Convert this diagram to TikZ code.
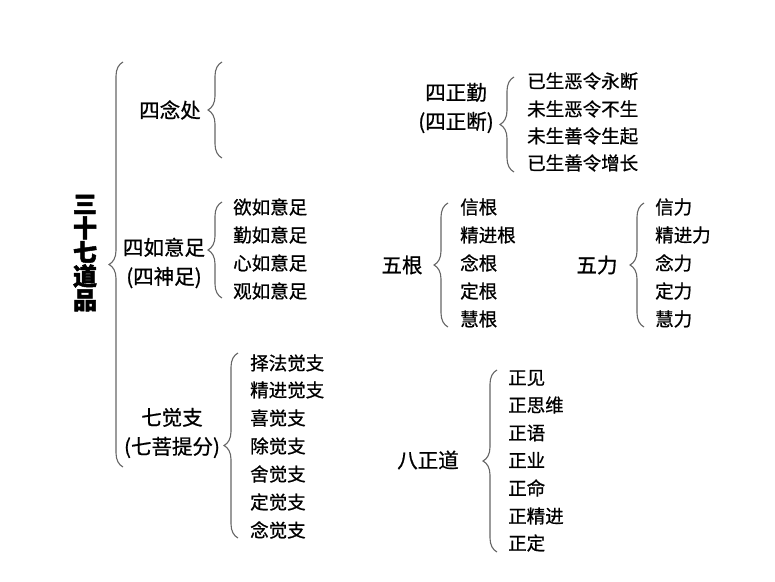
\documentclass[tikz,border=0pt]{standalone}
\usepackage{fontspec}
\setmainfont{Noto Sans CJK SC}[FakeBold=0.8]
\newfontfamily\titlefont{Noto Sans CJK SC}[FakeBold=2]
\usetikzlibrary{decorations.pathreplacing}
\definecolor{bracegray}{HTML}{666666}
\tikzset{
  item/.style={anchor=west, inner sep=0pt, font=\fontsize{18.5}{20}\selectfont},
  lab/.style={inner sep=0pt, align=center, font=\fontsize{20.5}{29}\selectfont},
  brc/.style={decorate, decoration={brace, amplitude=#1}, draw=bracegray, line width=1.1pt},
  brc/.default=14pt
}
\begin{document}
\begin{tikzpicture}[x=1pt, y=-1pt]
\useasboundingbox (0,0) rectangle (775,581);
% title
\node[inner sep=0pt, align=center, font=\fontsize{24}{24}\titlefont\bfseries] (title) at (85,253) {三\\十\\七\\道\\品};
% big brace
\coordinate (bigB) at (123,467);
\coordinate (bigT) at (123,62);
\draw[brc=14pt] (bigB) -- (bigT);

% 四念处
\node[lab] (snc) at (170,110) {四念处};
\coordinate (sncB) at (222,158);
\coordinate (sncT) at (222,62);
\draw[brc] (sncB) -- (sncT);

% 四如意足
\node[lab] (srz) at (164,263) {四如意足\\(四神足)};
\coordinate (srzB) at (222,298);
\coordinate (srzT) at (222,202);
\draw[brc] (srzB) -- (srzT);
\node[item] (srz1) at (233,207) {欲如意足};
\node[item] (srz2) at (233,235) {勤如意足};
\node[item] (srz3) at (233,263) {心如意足};
\node[item] (srz4) at (233,291) {观如意足};

% 七觉支
\node[lab] (qjz) at (172,433) {七觉支\\(七菩提分)};
\coordinate (qjzB) at (238,538);
\coordinate (qjzT) at (238,353);
\draw[brc] (qjzB) -- (qjzT);
\node[item] (qjz1) at (250,363) {择法觉支};
\node[item] (qjz2) at (250,390) {精进觉支};
\node[item] (qjz3) at (250,418) {喜觉支};
\node[item] (qjz4) at (250,446) {除觉支};
\node[item] (qjz5) at (250,474) {舍觉支};
\node[item] (qjz6) at (250,502) {定觉支};
\node[item] (qjz7) at (250,530) {念觉支};

% 四正勤
\node[lab] (szq) at (456,108) {四正勤\\(四正断)};
\coordinate (szqB) at (514,172);
\coordinate (szqT) at (514,77);
\draw[brc] (szqB) -- (szqT);
\node[item] (szq1) at (527,81) {已生恶令永断};
\node[item] (szq2) at (527,109) {未生恶令不生};
\node[item] (szq3) at (527,136) {未生善令生起};
\node[item] (szq4) at (527,163) {已生善令增长};

% 五根
\node[lab] (wg) at (402,265) {五根};
\coordinate (wgB) at (448,327);
\coordinate (wgT) at (448,203);
\draw[brc] (wgB) -- (wgT);
\node[item] (wg1) at (460,207) {信根};
\node[item] (wg2) at (460,235) {精进根};
\node[item] (wg3) at (460,263) {念根};
\node[item] (wg4) at (460,291) {定根};
\node[item] (wg5) at (460,319) {慧根};

% 五力
\node[lab] (wl) at (597,265) {五力};
\coordinate (wlB) at (644,327);
\coordinate (wlT) at (644,203);
\draw[brc] (wlB) -- (wlT);
\node[item] (wl1) at (655,207) {信力};
\node[item] (wl2) at (655,235) {精进力};
\node[item] (wl3) at (655,263) {念力};
\node[item] (wl4) at (655,291) {定力};
\node[item] (wl5) at (655,319) {慧力};

% 八正道
\node[lab] (bzd) at (428,460) {八正道};
\coordinate (bzdB) at (497,552);
\coordinate (bzdT) at (497,370);
\draw[brc] (bzdB) -- (bzdT);
\node[item] (bzd1) at (508,378) {正见};
\node[item] (bzd2) at (508,405) {正思维};
\node[item] (bzd3) at (508,433) {正语};
\node[item] (bzd4) at (508,460) {正业};
\node[item] (bzd5) at (508,488) {正命};
\node[item] (bzd6) at (508,516) {正精进};
\node[item] (bzd7) at (508,543) {正定};
\end{tikzpicture}
\end{document}
